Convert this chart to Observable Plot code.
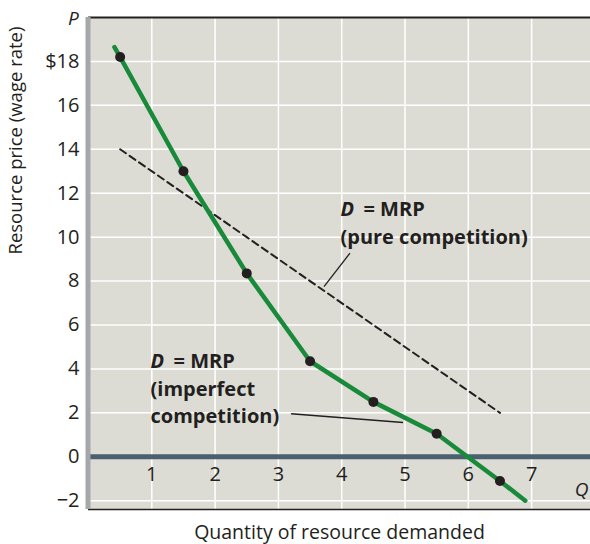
<!DOCTYPE html>
<html><head><meta charset="utf-8">
<script src="https://cdn.jsdelivr.net/npm/d3@7"></script>
<script src="https://cdn.jsdelivr.net/npm/@observablehq/plot@0.6"></script>
<style>body{margin:0;background:#fff;}</style>
</head><body><div id="chart"></div>
<script>
// Data
const quantity = [0.5, 1.5, 2.5, 3.5, 4.5, 5.5, 6.5];
const mrpImperfect = [18.2, 13.0, 8.35, 4.35, 2.5, 1.05, -1.1];
const mrpPure = [14, 12, 10, 8, 6, 4, 2];
// green curve extends slightly past the end points
const curveQ = [0.41, 0.5, 1.5, 2.5, 3.5, 4.5, 5.5, 6.5, 6.9];
const curveP = [18.65, 18.2, 13.0, 8.35, 4.35, 2.5, 1.05, -1.1, -2.0];
const xTickValues = [1, 2, 3, 4, 5, 6, 7];
const xTickLabels = ["1", "2", "3", "4", "5", "6", "7"];
const yTickValues = [-2, 0, 2, 4, 6, 8, 10, 12, 14, 16, 18];
const yTickLabels = ["\u22122", "0", "2", "4", "6", "8", "10", "12", "14", "16", "$18"];

const dots = quantity.map((q, i) => ({q, p: mrpImperfect[i]}));
const pure = quantity.map((q, i) => ({q, p: mrpPure[i]}));
const curve = curveQ.map((q, i) => ({q, p: curveP[i]}));
const xTicks = xTickValues.map((v, i) => ({v, label: xTickLabels[i]}));

const FONT = "'Open Sans', Lato, sans-serif";
const INK = "#231f20";
const ann = {textAnchor: "start", lineAnchor: "bottom", fontWeight: "bold", fontSize: 20, fill: INK};

const chart = Plot.plot({
  width: 590,
  height: 544,
  marginLeft: 88,
  marginRight: 0,
  marginTop: 17,
  marginBottom: 35,
  style: {fontFamily: FONT, fontSize: "17px", color: INK, background: "#fff"},
  x: {domain: [0, 7.93], axis: null},
  y: {domain: [-2.4, 20], axis: null},
  marks: [
    Plot.frame({fill: "#dcdcd5", stroke: null}),
    Plot.gridX(xTickValues, {stroke: "#fff", strokeOpacity: 1, strokeWidth: 1.5}),
    Plot.gridY(yTickValues, {stroke: "#fff", strokeOpacity: 1, strokeWidth: 1.5}),
    Plot.ruleY([0], {stroke: "#4a6070", strokeWidth: 5}),
    Plot.ruleY([20], {stroke: INK, strokeWidth: 2}),
    Plot.ruleY([-2.4], {stroke: INK, strokeWidth: 1.5}),
    Plot.ruleX([0], {stroke: "#a6a7aa", strokeWidth: 5, dx: -0.5}),
    Plot.axisY({ticks: yTickValues, tickSize: 0, tickPadding: 9, fontSize: 20,
      tickFormat: d => yTickLabels[yTickValues.indexOf(d)], label: null, ariaLabel: "ytick"}),
    Plot.text(xTicks, {x: "v", y: -0.82, text: "label", fontSize: 20, lineAnchor: "middle", fill: INK}),
    // pure competition MRP (dashed)
    Plot.line(pure, {x: "q", y: "p", stroke: INK, strokeWidth: 2, strokeDasharray: "7,4.5"}),
    // imperfect competition MRP
    Plot.line(curve, {x: "q", y: "p", stroke: "#188a3a", strokeWidth: 4.5}),
    Plot.dot(dots, {x: "q", y: "p", r: 5, fill: INK, stroke: null}),
    // leader lines
    Plot.link([{x1: 4.13, y1: 9.27, x2: 3.72, y2: 7.75}], {x1: "x1", y1: "y1", x2: "x2", y2: "y2", stroke: INK, strokeWidth: 1.3}),
    Plot.link([{x1: 3.2, y1: 1.96, x2: 4.97, y2: 1.56}], {x1: "x1", y1: "y1", x2: "x2", y2: "y2", stroke: INK, strokeWidth: 1.3}),
    // annotations
    Plot.text(["D"], {...ann, x: 3.98, y: 10.94, text: d => d, fontStyle: "italic"}),
    Plot.text(["= MRP"], {...ann, x: 3.98, y: 10.94, dx: 23, text: d => d, ariaLabel: "fitMRP1"}),
    Plot.text(["(pure competition)"], {...ann, x: 3.98, y: 9.71, text: d => d, ariaLabel: "fitPure"}),
    Plot.text(["D"], {...ann, x: 0.98, y: 4.02, text: d => d, fontStyle: "italic"}),
    Plot.text(["= MRP"], {...ann, x: 0.98, y: 4.02, dx: 23, text: d => d, ariaLabel: "fitMRP2"}),
    Plot.text(["(imperfect"], {...ann, x: 0.98, y: 2.75, text: d => d, ariaLabel: "fitImp"}),
    Plot.text(["competition)"], {...ann, x: 0.98, y: 1.52, text: d => d, ariaLabel: "fitComp"}),
    // axis letters
    Plot.text(["P"], {x: -0.24, y: 19.64, text: d => d, lineAnchor: "bottom", fontStyle: "italic", fontSize: 19, fill: INK}),
    Plot.text(["Q"], {x: 7.79, y: -1.8, text: d => d, lineAnchor: "bottom", fontStyle: "italic", fontSize: 19, fill: INK}),
    // axis titles
    Plot.text(["Resource price (wage rate)"], {frameAnchor: "left", dx: -72, dy: -9, rotate: -90, text: d => d, fontSize: 18.5, fill: INK, ariaLabel: "ytitle"}),
    Plot.text(["Quantity of resource demanded"], {frameAnchor: "bottom", dy: 29, text: d => d, fontSize: 19.5, fill: INK, ariaLabel: "xtitle"})
  ]
});
document.getElementById("chart").appendChild(chart);
const svg = d3.select(chart);
// stretch text spacing so widths match the reference's wide typeface (where supported)
function fit(label, target) {
  svg.selectAll(`g[aria-label="${label}"] text`)
    .attr("textLength", target)
    .attr("lengthAdjust", "spacing");
}
fit("xtitle", 291);
fit("ytitle", 227);
fit("fitPure", 198);
fit("fitImp", 109);
fit("fitComp", 134);
fit("fitMRP1", 66);
fit("fitMRP2", 66);
</script>
</body></html>
